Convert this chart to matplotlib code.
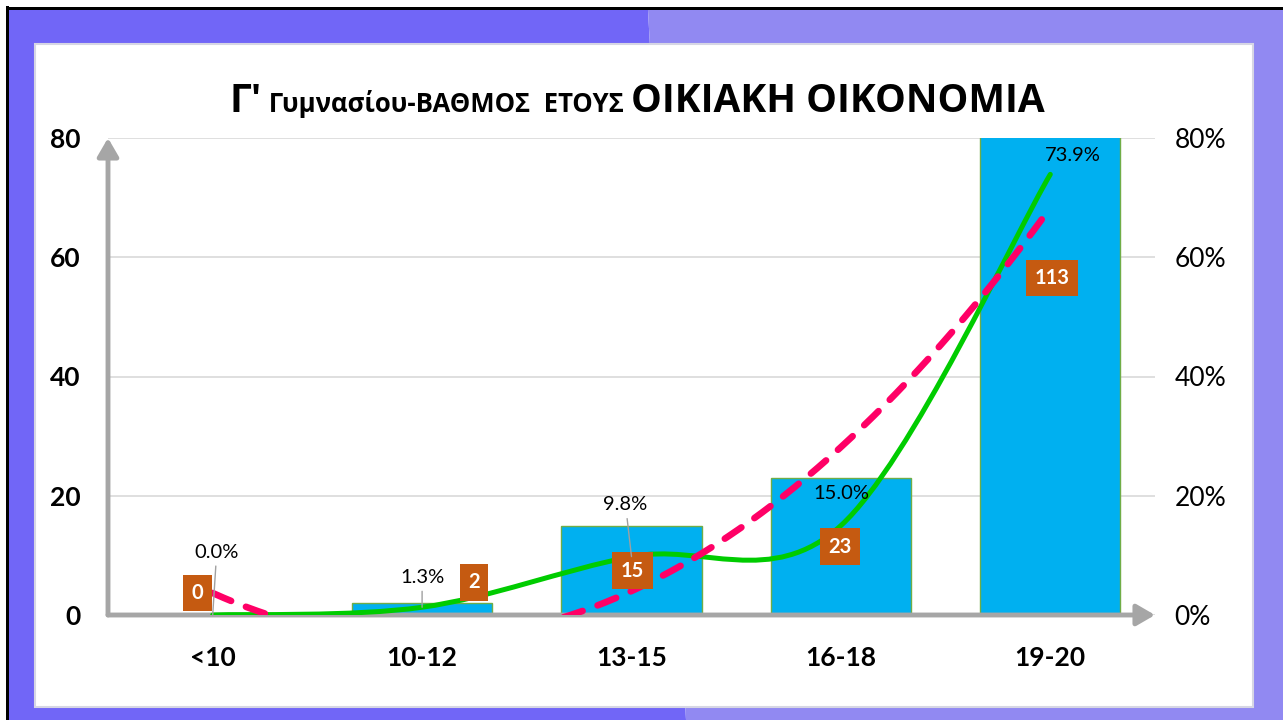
import numpy as np
import matplotlib.pyplot as plt
from matplotlib.patches import Polygon, Rectangle, FancyArrowPatch
from matplotlib.path import Path
from matplotlib.patches import PathPatch
from matplotlib.ticker import FuncFormatter

# data
categories = ['<10', '10-12', '13-15', '16-18', '19-20']
counts = [0, 2, 15, 23, 113]
percents = [0.0, 1.3, 9.8, 15.0, 73.9]
left_ticks = [0, 20, 40, 60, 80]
right_ticks = [0, 20, 40, 60, 80]

# manual label placement (pixel offsets), like the hand-moved Excel labels
count_offsets = [(-15, 22), (52, 21), (1, -45), (-1, -69), (2, -140)]
pct_offsets = [(4, 63), (0, 30), (-6, 52), (0, 32), (23, 19)]
pct_leader = [True, True, True, False, False]

W, H = 1283, 720
plt.rcParams['font.family'] = ['Lato', 'Open Sans', 'DejaVu Sans']
fig = plt.figure(figsize=(W / 100, H / 100), dpi=100)
fig.patch.set_facecolor('white')

# slide background
def fx(px):
    return px / W

def fy(py):
    return 1 - py / H

fig.patches.append(Polygon([(fx(8), fy(10)), (fx(648), fy(10)), (fx(686), fy(720)), (fx(8), fy(720))],
                           closed=True, transform=fig.transFigure, facecolor='#7166F7', edgecolor='none', zorder=-5))
fig.patches.append(Polygon([(fx(648), fy(10)), (fx(1283), fy(10)), (fx(1283), fy(720)), (fx(686), fy(720))],
                           closed=True, transform=fig.transFigure, facecolor='#9189F2', edgecolor='none', zorder=-5))
fig.patches.append(Rectangle((fx(6), fy(720)), fx(3), 1 - 6 / H, transform=fig.transFigure,
                             facecolor='black', edgecolor='none', zorder=-4))
fig.patches.append(Rectangle((fx(6), fy(10)), 1, 3 / H, transform=fig.transFigure,
                             facecolor='black', edgecolor='none', zorder=-4))
fig.patches.append(Rectangle((fx(35), fy(707)), fx(1253 - 35), (707 - 44) / H, transform=fig.transFigure,
                             facecolor='white', edgecolor='#D6D6E4', lw=1.5, zorder=-3))

# plot area
ax = fig.add_axes([fx(108), fy(615), fx(1155 - 108), (615 - 138) / H])
ax.set_facecolor('none')
x = np.arange(len(categories))
ax.bar(x, counts, width=0.67, color='#00B0F0', edgecolor='#70AD47', lw=1, zorder=2)
ax.set_xlim(-0.5, 4.5)
ax.set_ylim(0, 80)
ax.set_yticks(left_ticks)
ax.set_xticks(x)
ax.set_xticklabels(categories, fontsize=19, fontweight='bold')
for lab in ax.get_yticklabels():
    lab.set_fontweight('bold')
    lab.set_fontsize(19)
ax.tick_params(length=0)
ax.tick_params(axis='y', pad=20)
ax.tick_params(axis='x', pad=22)
ax.yaxis.grid(True, color='#D9D9D9', lw=1.2, zorder=0)
ax.set_axisbelow(True)
for s in ax.spines.values():
    s.set_visible(False)

# gray axes with arrow heads
for end in [(0, 1), (1, 0)]:
    arr = FancyArrowPatch((0, 0), end, transform=ax.transAxes, arrowstyle='-|>,head_length=0.55,head_width=0.32',
                          mutation_scale=20, lw=3.5, color='#A6A6A6', shrinkA=0, shrinkB=0,
                          clip_on=False, zorder=3)
    ax.add_patch(arr)

# secondary axis with percentages
ax2 = ax.twinx()
ax2.set_ylim(0, 80)
ax2.set_yticks(right_ticks)
ax2.yaxis.set_major_formatter(FuncFormatter(lambda v, p: f'{v:.0f}%'))
ax2.tick_params(length=0, pad=14, labelsize=19)
for s in ax2.spines.values():
    s.set_visible(False)

# smoothed line (Excel style Bezier through the points)
pts = np.column_stack([x, percents]).astype(float)
verts = [pts[0]]
codes = [Path.MOVETO]
n = len(pts)
for i in range(n - 1):
    p0 = pts[max(i - 1, 0)]
    p1 = pts[i]
    p2 = pts[i + 1]
    p3 = pts[min(i + 2, n - 1)]
    verts += [p1 + (p2 - p0) / 6, p2 - (p3 - p1) / 6, p2]
    codes += [Path.CURVE4] * 3
ax2.add_patch(PathPatch(Path(verts, codes), facecolor='none', edgecolor='#00CC00', lw=3.6, zorder=3,
                        capstyle='round'))

# polynomial trendline of order 2
coef = np.polyfit(x, percents, 2)
xt = np.linspace(0, 4, 300)
ax2.plot(xt, np.polyval(coef, xt), color='#FF0066', lw=4.8, dashes=(3, 2.4),
         dash_capstyle='round', zorder=4)

# count labels
for i, (c, off) in enumerate(zip(counts, count_offsets)):
    ax2.annotate(str(c), xy=(i, min(c, 80)), xycoords=ax.transData, xytext=off,
                 textcoords='offset pixels', ha='center', va='center', color='white',
                 fontsize=14.5, fontweight='bold', zorder=6,
                 bbox=dict(boxstyle='square,pad=0.42', facecolor='#C55A11', edgecolor='none'))

# percent labels
for i, (p, off, lead) in enumerate(zip(percents, pct_offsets, pct_leader)):
    props = dict(arrowstyle='-', color='#A0A0A0', lw=1, shrinkA=2, shrinkB=0) if lead else None
    ax2.annotate(f'{p:.1f}%', xy=(i, p), xytext=off, textcoords='offset pixels',
                 ha='center', va='center', fontsize=14.5, color='black', zorder=6,
                 arrowprops=props)

# title in three sizes on one baseline
parts = [("Γ'", 28), (" Γυμνασίου-ΒΑΘΜΟΣ  ΕΤΟΥΣ ", 18.5), ("ΟΙΚΙΑΚΗ ΟΙΚΟΝΟΜΙΑ", 28)]
texts = [fig.text(0, fy(112), t, fontsize=s, fontweight='bold', va='baseline', ha='left',
                  family=['Open Sans', 'DejaVu Sans']) for t, s in parts]
fig.canvas.draw()
r = fig.canvas.get_renderer()
widths = [t.get_window_extent(r).width for t in texts]
xpos = 637 - sum(widths) / 2
for t, w in zip(texts, widths):
    t.set_x(fx(xpos))
    xpos += w

fig.savefig('out.png', dpi=100)
